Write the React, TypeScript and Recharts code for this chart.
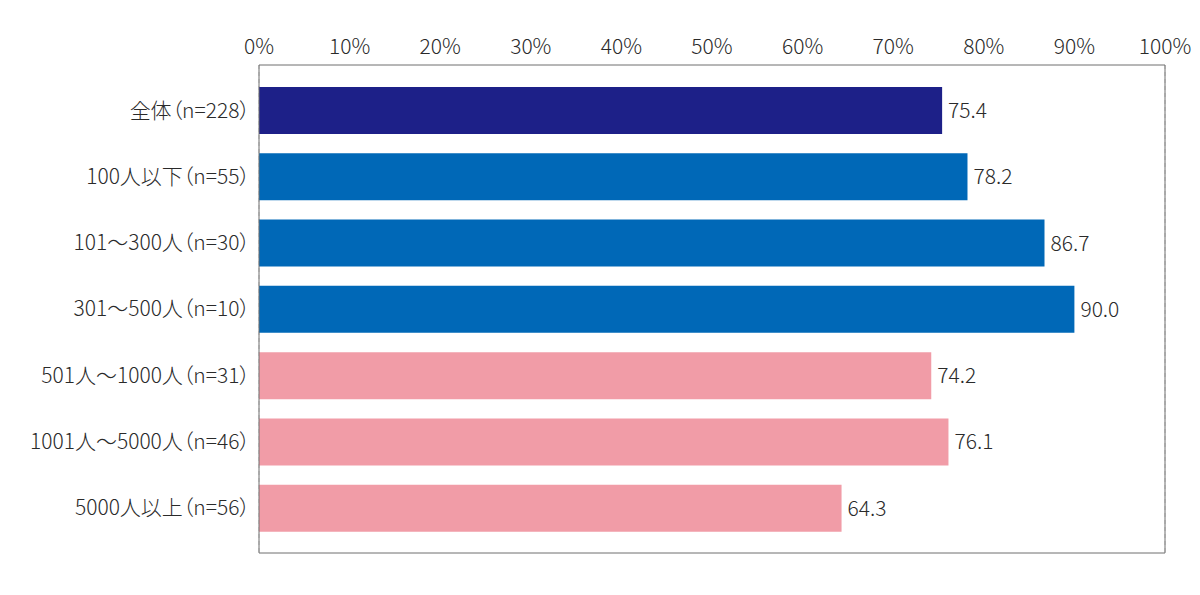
import React from 'react';
import { BarChart, Bar, XAxis, YAxis, CartesianGrid, Cell, LabelList } from 'recharts';

const categories = [
  '全体（n=228）',
  '100人以下（n=55）',
  '101～300人（n=30）',
  '301～500人（n=10）',
  '501人～1000人（n=31）',
  '1001人～5000人（n=46）',
  '5000人以上（n=56）',
];
const values = [75.4, 78.2, 86.7, 90.0, 74.2, 76.1, 64.3];
const barColors = ['#1d2088', '#0068b7', '#0068b7', '#0068b7', '#f19ca7', '#f19ca7', '#f19ca7'];
const xTicks = [0, 10, 20, 30, 40, 50, 60, 70, 80, 90, 100];

const data = categories.map((name, i) => ({ name, value: values[i] }));

const FONT = '"Noto Sans CJK JP", "Noto Sans", sans-serif';
const BORDER = '#6e6e6e';
const TEXT = '#2a2a2a';

export default function App() {
  return (
    <div
      style={{
        margin: -8,
        width: 1200,
        height: 595,
        background: '#fff',
        fontFamily: FONT,
        fontFeatureSettings: '"palt"',
      }}
    >
      <BarChart
        width={1200}
        height={595}
        data={data}
        layout="vertical"
        margin={{ top: 0, right: 34, bottom: 41, left: 0 }}
        barSize={47}
      >
        <CartesianGrid horizontal={false} stroke="#c8c8c8" strokeDasharray="4 3" />
        <XAxis
          xAxisId="top"
          type="number"
          orientation="top"
          domain={[0, 100]}
          ticks={xTicks}
          tickFormatter={(v) => `${v}%`}
          height={65}
          tickLine={false}
          tickMargin={5}
          axisLine={{ stroke: BORDER }}
          tick={{ fill: TEXT, fontSize: 21, fontFamily: FONT, fontWeight: 300 }}
        />
        <XAxis
          xAxisId="bottom"
          type="number"
          orientation="bottom"
          domain={[0, 100]}
          height={1}
          tick={false}
          tickLine={false}
          axisLine={{ stroke: BORDER }}
        />
        <YAxis
          type="category"
          dataKey="name"
          width={259}
          padding={{ top: 12, bottom: 12 }}
          tickLine={false}
          tickMargin={3}
          axisLine={{ stroke: BORDER }}
          tick={{ fill: TEXT, fontSize: 21, fontFamily: FONT, fontWeight: 300 }}
        />
        <YAxis
          yAxisId="right"
          type="category"
          dataKey="name"
          orientation="right"
          width={1}
          tick={false}
          tickLine={false}
          axisLine={{ stroke: BORDER }}
        />
        <Bar dataKey="value" xAxisId="top" isAnimationActive={false}>
          {data.map((d, i) => (
            <Cell key={d.name} fill={barColors[i]} />
          ))}
          <LabelList
            dataKey="value"
            position="right"
            offset={6}
            formatter={(v: number) => v.toFixed(1)}
            style={{ fill: TEXT, fontSize: 21, fontFamily: FONT, fontWeight: 300 }}
          />
        </Bar>
      </BarChart>
    </div>
  );
}
